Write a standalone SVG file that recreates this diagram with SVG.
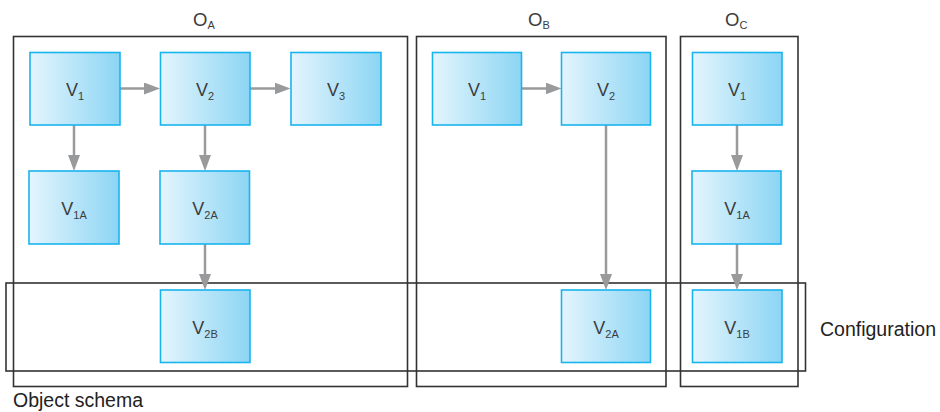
<svg xmlns="http://www.w3.org/2000/svg" width="940" height="412" viewBox="0 0 940 412">
<defs>
<linearGradient id="nodeGrad" x1="0" y1="0" x2="1" y2="0">
<stop offset="0" stop-color="#e4f5fd"/>
<stop offset="1" stop-color="#8cd5f4"/>
</linearGradient>
<marker id="arrow" markerUnits="userSpaceOnUse" markerWidth="16" markerHeight="12" viewBox="0 0 16 12" refX="6" refY="6" orient="auto">
<path d="M0,0 L16,6 L0,12 z" fill="#999a9c"/>
</marker>
</defs>
<style>
.frame{fill:none;stroke:#333;stroke-width:1.6}
.node rect{fill:url(#nodeGrad);stroke:#18b4ee;stroke-width:1.6}
.lbl{font-family:"Liberation Sans",Arial,sans-serif;font-size:18px;fill:#3c3c3c;text-anchor:middle}
.sub{font-size:11px}
.olbl{font-family:"Liberation Sans",Arial,sans-serif;font-size:18.5px;fill:#3c3c3c}
.cap{font-family:"Liberation Sans",Arial,sans-serif;font-size:19.5px;fill:#222}
.conn line{stroke:#999a9c;stroke-width:2.5;marker-end:url(#arrow)}
</style>
<g id="frames">
<rect id="objA" class="frame" x="13.5" y="36.5" width="394" height="350"/>
<rect id="objB" class="frame" x="416.5" y="36.5" width="249.5" height="350"/>
<rect id="objC" class="frame" x="680.5" y="36.5" width="117.5" height="350"/>
<rect id="config" class="frame" x="6" y="283" width="799.5" height="88"/>
</g>
<g id="frame-labels">
<text class="olbl" x="193" y="26">O<tspan class="sub" dy="3">A</tspan></text>
<text class="olbl" x="528" y="26">O<tspan class="sub" dy="3">B</tspan></text>
<text class="olbl" x="725" y="26">O<tspan class="sub" dy="3">C</tspan></text>
<text class="cap" x="820" y="336">Configuration</text>
<text class="cap" x="13" y="406.5">Object schema</text>
</g>
<g id="connectors" class="conn">
<line x1="120" y1="88.5" x2="150" y2="88.5"/>
<line x1="250" y1="88.5" x2="280.5" y2="88.5"/>
<line x1="521.5" y1="88.5" x2="551.5" y2="88.5"/>
<line x1="74" y1="125" x2="74" y2="161"/>
<line x1="205" y1="125" x2="205" y2="161"/>
<line x1="205" y1="244" x2="205" y2="280"/>
<line x1="606" y1="125" x2="606" y2="280"/>
<line x1="737" y1="125" x2="737" y2="161"/>
<line x1="737" y1="244" x2="737" y2="280"/>
</g>
<g id="A_V1" class="node"><rect x="30" y="52.5" width="90" height="72.5"/><text class="lbl" x="75" y="96">V<tspan class="sub" dy="4">1</tspan></text></g>
<g id="A_V2" class="node"><rect x="160.5" y="52.5" width="89.5" height="72.5"/><text class="lbl" x="205" y="96">V<tspan class="sub" dy="4">2</tspan></text></g>
<g id="A_V3" class="node"><rect x="291" y="52.5" width="90" height="72.5"/><text class="lbl" x="336" y="96">V<tspan class="sub" dy="4">3</tspan></text></g>
<g id="A_V1A" class="node"><rect x="29" y="171" width="90" height="73"/><text class="lbl" x="74" y="215">V<tspan class="sub" dy="4">1A</tspan></text></g>
<g id="A_V2A" class="node"><rect x="160" y="171" width="89.5" height="73"/><text class="lbl" x="205" y="215">V<tspan class="sub" dy="4">2A</tspan></text></g>
<g id="A_V2B" class="node"><rect x="160.5" y="290" width="89.5" height="72.5"/><text class="lbl" x="205" y="334">V<tspan class="sub" dy="4">2B</tspan></text></g>
<g id="B_V1" class="node"><rect x="432.5" y="52.5" width="89" height="72.5"/><text class="lbl" x="477" y="96">V<tspan class="sub" dy="4">1</tspan></text></g>
<g id="B_V2" class="node"><rect x="561.5" y="52.5" width="89" height="72.5"/><text class="lbl" x="606" y="96">V<tspan class="sub" dy="4">2</tspan></text></g>
<g id="B_V2A" class="node"><rect x="561.5" y="290" width="89" height="72.5"/><text class="lbl" x="606" y="334">V<tspan class="sub" dy="4">2A</tspan></text></g>
<g id="C_V1" class="node"><rect x="692.5" y="52.5" width="89.5" height="72.5"/><text class="lbl" x="737" y="96">V<tspan class="sub" dy="4">1</tspan></text></g>
<g id="C_V1A" class="node"><rect x="692" y="171" width="89" height="73"/><text class="lbl" x="737" y="215">V<tspan class="sub" dy="4">1A</tspan></text></g>
<g id="C_V1B" class="node"><rect x="692.5" y="290" width="89.5" height="72.5"/><text class="lbl" x="737" y="334">V<tspan class="sub" dy="4">1B</tspan></text></g>
</svg>
